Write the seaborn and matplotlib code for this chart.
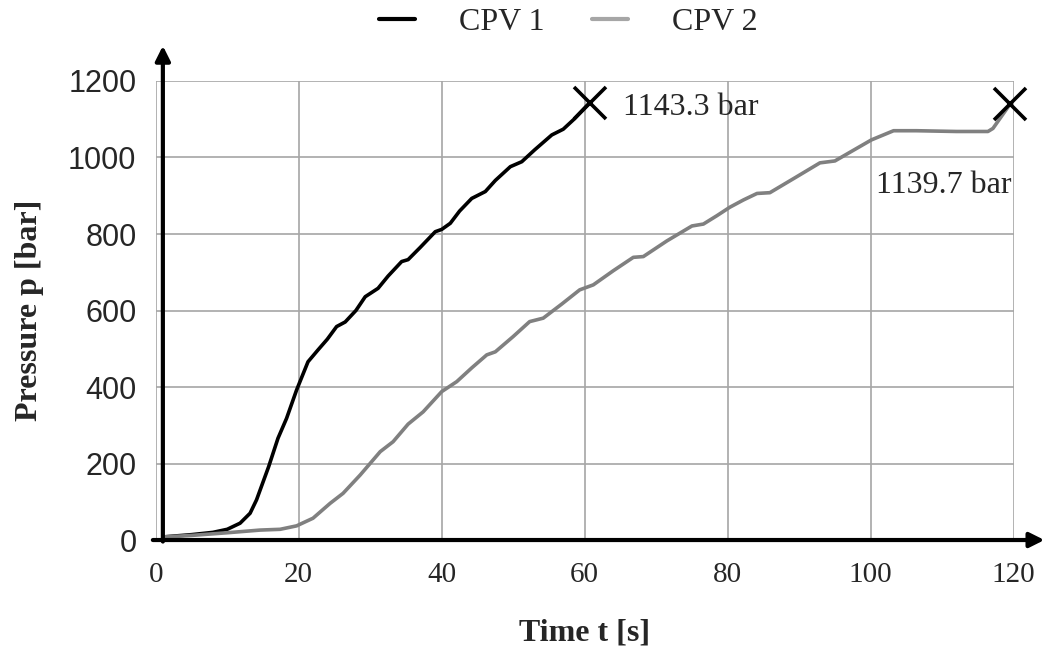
import seaborn as sns
import matplotlib.pyplot as plt
import pandas as pd
from matplotlib.ticker import MultipleLocator

# values
cpv1_t = [1, 5, 8, 10, 11.8, 13.2, 14.1, 15.8, 17.1, 18.3, 19.7, 21.3, 22.7, 24, 25.3,
          26.5, 28, 29.3, 31.1, 32.5, 34.4, 35.3, 37, 39.1, 40, 41.2, 42.5, 44.2, 46.1,
          47.5, 49.6, 51.2, 53, 55.4, 57, 58.5, 60.7]
cpv1_p = [8, 14, 20, 28, 44, 70, 105, 192, 266, 318, 392, 466, 497, 525, 558,
          570, 600, 636, 658, 690, 728, 733, 765, 806, 812, 828, 860, 893, 911,
          940, 976, 989, 1020, 1059, 1074, 1100, 1143.3]

cpv2_t = [1, 5, 10, 14.6, 17.4, 19.7, 22, 24.4, 26.2, 28.6, 31.4, 33.2, 35.3, 37.4, 40,
          42.1, 44.2, 46.3, 47.5, 50, 52.3, 54.2, 56.8, 59.3, 61.2, 64, 66.8, 68.2, 71.5,
          75, 76.6, 78.5, 80.3, 82.2, 84.1, 85.9, 89.5, 92.9, 95, 97.5, 100.1, 103.2,
          106.4, 112, 116.4, 117.1, 119.5]
cpv2_p = [8, 12, 19, 26, 28, 37, 57, 96, 122, 170, 231, 257, 303, 335, 388,
          414, 450, 484, 492, 532, 571, 580, 617, 654, 667, 704, 739, 741, 782,
          821, 826, 848, 870, 889, 906, 908, 948, 986, 991, 1018, 1046, 1070,
          1070, 1068, 1068, 1076, 1139.7]

series = ["CPV 1", "CPV 2"]
labels = ["1143.3 bar", "1139.7 bar"]

df = pd.concat([
    pd.DataFrame({"t": cpv1_t, "p": cpv1_p, "s": series[0]}),
    pd.DataFrame({"t": cpv2_t, "p": cpv2_p, "s": series[1]}),
])

sns.set_style("white")
plt.rcParams["font.family"] = ["Liberation Serif", "DejaVu Serif"]

fig = plt.figure(figsize=(10.43, 6.5), dpi=100)
ax = fig.add_axes([0.1493, 0.1692, 0.8226, 0.7062])

sns.lineplot(data=df, x="t", y="p", hue="s", palette=["black", "#808080"],
             linewidth=2.6, ax=ax, legend=False, solid_joinstyle="round")

# end markers
ax.plot([cpv1_t[-1], cpv2_t[-1]], [cpv1_p[-1], cpv2_p[-1]], "x", color="black",
        markersize=23, mew=2.6, clip_on=False, zorder=5)
ax.text(65.3, 1132, labels[0], fontsize=23, va="center", ha="left")
ax.text(100.8, 928, labels[1], fontsize=23, va="center", ha="left")

ax.set_xlim(0, 120)
ax.set_ylim(0, 1200)
ax.xaxis.set_major_locator(MultipleLocator(20))
ax.xaxis.set_minor_locator(MultipleLocator(10))
ax.yaxis.set_major_locator(MultipleLocator(200))
ax.yaxis.set_minor_locator(MultipleLocator(100))
ax.grid(True, which="major", color="#a6a6a6", linewidth=1.2)
ax.set_axisbelow(True)

ax.spines["left"].set_position(("data", 1))
for s in ax.spines.values():
    s.set_visible(False)

ax.tick_params(axis="both", which="both", direction="out", color="black", width=2.2)
ax.tick_params(axis="both", which="major", length=7)
ax.tick_params(axis="both", which="minor", length=5)
ax.tick_params(axis="x", pad=9, labelsize=21)
ax.tick_params(axis="y", pad=12, labelsize=22)
for lab in ax.get_yticklabels():
    lab.set_fontfamily("Liberation Sans")

# axis lines with arrow heads
ax.annotate("", xy=(124.3, 0), xytext=(-0.4, 0), annotation_clip=False,
            arrowprops=dict(arrowstyle="-|>", lw=3, color="black", mutation_scale=22,
                            shrinkA=0, shrinkB=0))
ax.annotate("", xy=(1, 1292), xytext=(1, -4), annotation_clip=False,
            arrowprops=dict(arrowstyle="-|>", lw=3, color="black", mutation_scale=22,
                            shrinkA=0, shrinkB=0))

ax.set_xlabel("Time t [s]", fontsize=23, fontweight="bold", labelpad=22)
ax.set_ylabel("Pressure p [bar]", fontsize=23, fontweight="bold", labelpad=17)

handles = [plt.Line2D([], [], color="black", lw=3),
           plt.Line2D([], [], color="#a6a6a6", lw=3)]
fig.legend(handles, series, loc="center", bbox_to_anchor=(0.545, 0.966), ncol=2,
           frameon=False, fontsize=23, handlelength=1.13, handletextpad=1.38,
           columnspacing=1.47)

fig.savefig("out.png", dpi=100)
